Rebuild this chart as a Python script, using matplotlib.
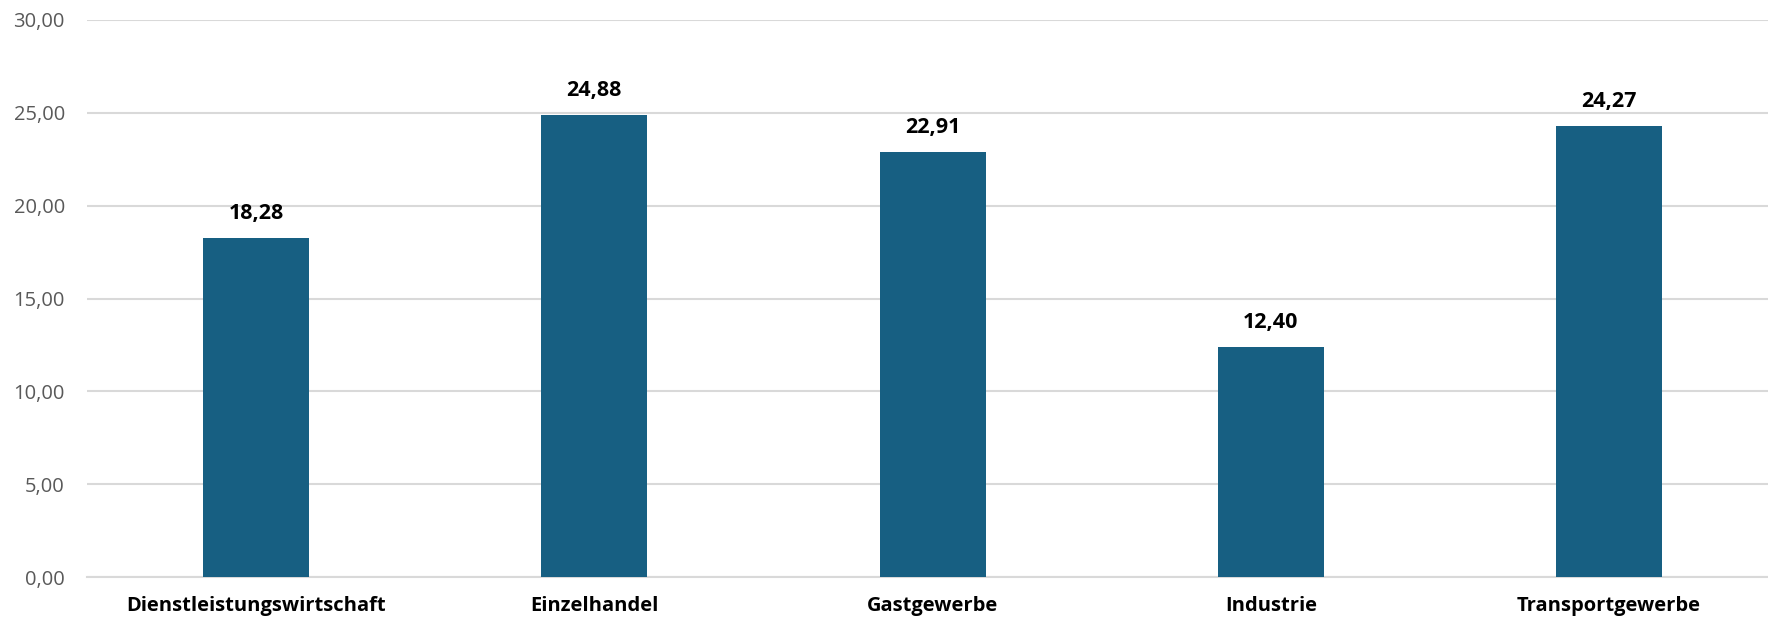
import matplotlib.pyplot as plt
import numpy as np

categories = ["Dienstleistungswirtschaft", "Einzelhandel", "Gastgewerbe", "Industrie", "Transportgewerbe"]
values = [18.28, 24.88, 22.91, 12.40, 24.27]
yticks = [0, 5, 10, 15, 20, 25, 30]

plt.rcParams['font.family'] = ['Open Sans', 'DejaVu Sans']

fig = plt.figure(figsize=(17.68, 6.19), dpi=100)
ax = fig.add_axes([87 / 1768, 42 / 619, 1 - 87 / 1768, (577 - 20) / 619])

x = np.arange(len(categories))
bars = ax.bar(x, values, width=0.313, color='#175F82', zorder=3)

for xi, v in zip(x, values):
    ax.annotate(f"{v:.2f}".replace('.', ','), (xi, v), xytext=(0, 10), textcoords='offset points',
                ha='center', va='bottom', fontsize=15.5, fontweight='bold', color='black')

ax.set_xlim(-0.5, 4.47)
ax.set_ylim(0, 30)
ax.set_yticks(yticks)
ax.set_yticklabels([f"{t:.2f}".replace('.', ',') for t in yticks], fontsize=14.5, color='#595959')
ax.set_xticks(x)
ax.set_xticklabels(categories, fontsize=14.5, fontweight='bold', color='black')
ax.tick_params(axis='both', length=0)
ax.tick_params(axis='y', pad=16)
ax.tick_params(axis='x', pad=14)
ax.grid(axis='y', color='#d9d9d9', linewidth=1.5, zorder=0)
for s in ['top', 'right', 'left']:
    ax.spines[s].set_visible(False)
ax.spines['bottom'].set_color('#d9d9d9')
ax.spines['bottom'].set_linewidth(1.5)

fig.savefig('out.png', dpi=100)
